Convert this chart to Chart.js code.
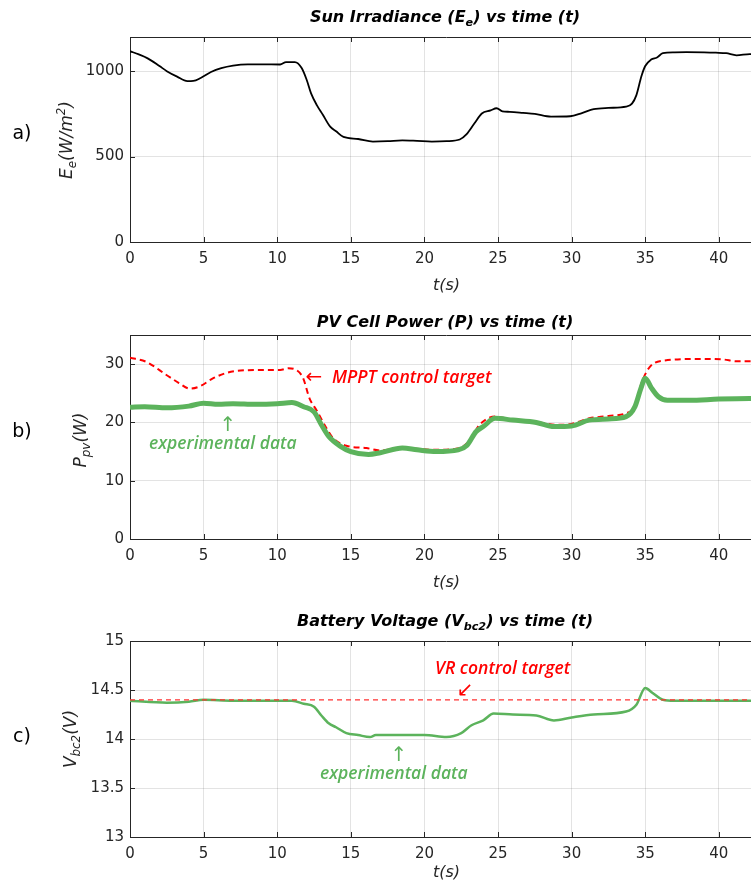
<!DOCTYPE html>
<html>
<head>
<meta charset="utf-8">
<script src="https://cdn.jsdelivr.net/npm/chart.js@4/dist/chart.umd.min.js"></script>
<style>
  html, body { margin:0; padding:0; background:#fff; width:751px; height:884px; overflow:hidden; }
  #wrap { position:relative; width:751px; height:884px; overflow:hidden; }
  canvas { position:absolute; left:0; }
  .t { position:absolute; white-space:nowrap; transform:translate(-50%,-50%); }
  .title { font:bold oblique 16px "DejaVu Sans", sans-serif; color:#000; }
  .ylab { font:oblique 17px "DejaVu Sans", sans-serif; color:#262626; transform:translate(-50%,-50%) rotate(-90deg); }
  .plab { font:19px "DejaVu Sans", sans-serif; color:#000; }
  .ann { position:absolute; white-space:nowrap; font:italic 600 17.5px "Open Sans", sans-serif; transform:translateY(-50%); }
  .arr { position:absolute; white-space:nowrap; font:20px "DejaVu Sans", sans-serif; transform:translate(-50%,-50%); }
  .red { color:#ff0000; }
  .grn { color:#5cb35c; }
  sub, sup { font-size:70%; line-height:0; }
</style>
</head>
<body>
<div id="wrap">
  <canvas id="ca" width="775" height="300" style="top:0px;width:775px;height:300px"></canvas>
  <canvas id="cb" width="775" height="295" style="top:300px;width:775px;height:295px"></canvas>
  <canvas id="cc" width="775" height="294" style="top:590px;width:775px;height:294px"></canvas>

  <div class="t title" style="left:445px;top:16px">Sun Irradiance (E<sub>e</sub>) vs time (t)</div>
  <div class="t title" style="left:445px;top:321px">PV Cell Power (P) vs time (t)</div>
  <div class="t title" style="left:445px;top:620px">Battery Voltage (V<sub>bc2</sub>) vs time (t)</div>

  <div class="t ylab" style="left:66px;top:140px">E<sub>e</sub>(W/m<sup>2</sup>)</div>
  <div class="t ylab" style="left:80px;top:440px">P<sub>pv</sub>(W)</div>
  <div class="t ylab" style="left:70px;top:739px">V<sub>bc2</sub>(V)</div>

  <div class="t plab" style="left:22px;top:132px">a)</div>
  <div class="t plab" style="left:22px;top:430px">b)</div>
  <div class="t plab" style="left:22px;top:735px">c)</div>

  <div class="arr red" style="left:314px;top:376px">←</div>
  <div class="ann red" style="left:332px;top:376px">MPPT control target</div>
  <div class="arr grn" style="left:228px;top:424px">↑</div>
  <div class="ann grn" style="left:149px;top:442px">experimental data</div>

  <div class="ann red" style="left:435px;top:667px">VR control target</div>
  <div class="arr red" style="left:465px;top:689px">↙</div>
  <div class="arr grn" style="left:399px;top:754px">↑</div>
  <div class="ann grn" style="left:320px;top:772px">experimental data</div>
</div>
<script>
// ---------- DATA ----------
const xTicks = [0, 5, 10, 15, 20, 25, 30, 35, 40];
const yTicksA = [0, 500, 1000];
const yTicksB = [0, 10, 20, 30];
const yTicksC = [13, 13.5, 14, 14.5, 15];

// a) Sun irradiance
const irrTime = [0,0.6,1.2,2,2.5,3.2,3.9,4.3,4.8,5.5,6.2,7,8,9,10.2,10.6,11.2,11.65,12,12.3,12.7,13.1,13.6,14,14.5,15.5,16.5,17.5,18.5,19.5,20.5,21.5,22.4,22.85,23.4,23.9,24.5,24.9,25.3,25.8,26.7,27.5,28.6,29.9,30.7,31.5,32.5,33.7,34.1,34.4,34.74,35.0,35.4,35.8,36.2,37,37.8,39,39.8,40.5,41.2,42.1,43];
const irrValue = [1117,1098,1075,1030,1000,968,942,943,960,995,1018,1033,1040,1040,1039,1053,1053,1020,950,870,800,745,675,648,615,603,588,590,595,592,588,590,600,630,695,752,770,783,765,762,756,750,734,736,755,778,785,792,810,860,970,1030,1068,1080,1105,1110,1111,1110,1108,1105,1093,1100,1100];

// b) PV power
const mpptTime = [0,1.1,2.5,3.3,4.07,4.75,5.6,6.56,7.5,9,10.2,10.75,11.3,11.76,12.2,12.67,13.35,13.8,14.7,16.06,17,18.5,20.8,22.4,23.1,23.75,24.8,26,27.6,29,29.9,31.2,32.5,33.7,34.3,34.74,35.3,36.2,38.9,40.3,41.2,43];
const mpptValue = [31.1,30.4,28.1,26.8,25.8,26.2,27.5,28.5,28.9,29.0,29.0,29.3,29.0,27.6,24.1,22.1,19.0,17.3,16.0,15.6,15.2,15.6,15.3,15.6,17.0,19.6,21.0,20.4,20.1,19.6,19.7,20.7,21.1,21.6,22.7,26.7,29.5,30.6,30.9,30.8,30.5,30.5];
const pExpTime = [0,1,2.5,4,5,6,7,8.5,10,11,11.8,12.5,13,13.5,14.3,15,16.2,17,18.5,19.5,20.8,22.3,22.9,23.5,24,24.8,26,27.6,28.8,30,31.2,32.5,33.7,34.3,34.7,35,35.4,35.9,36.5,38,40,42.1,43];
const pExpValue = [22.6,22.7,22.5,22.8,23.3,23.1,23.2,23.1,23.2,23.4,22.7,21.8,19.6,17.6,15.9,15.0,14.5,14.8,15.6,15.3,15.0,15.3,16.1,18.4,19.3,20.7,20.4,20.0,19.3,19.4,20.4,20.6,21.0,22.7,25.8,27.6,26.0,24.4,23.8,23.8,24.0,24.1,24.1];

// c) Battery voltage
const vrTime = [0, 43];
const vrValue = [14.4, 14.4];
const vExpTime = [0,2.5,4,5,7,10,11,11.8,12.5,13,13.5,14,14.7,15.5,16.3,16.7,18.5,20,21.5,22.5,23.2,24,24.7,26,27.6,28.8,30,31.5,33.7,34.4,35,35.5,36.2,37,40,43];
const vExpValue = [14.39,14.37,14.38,14.40,14.39,14.39,14.39,14.36,14.33,14.24,14.16,14.12,14.06,14.04,14.02,14.04,14.04,14.04,14.02,14.06,14.14,14.19,14.26,14.25,14.24,14.19,14.22,14.25,14.28,14.35,14.52,14.47,14.40,14.39,14.39,14.39];

// ---------- RENDER ----------
const pts = (xs, ys) => xs.map((x, i) => ({x: x, y: ys[i]}));
const AXIS = '#262626';
const GRID = 'rgba(0,0,0,0.11)';
const tickFont = {family: '"DejaVu Sans", sans-serif', size: 15};

function framePlugin(yTicks) {
  return {
    id: 'frame',
    afterDraw(chart) {
      const {ctx, chartArea: a, scales} = chart;
      ctx.save();
      ctx.strokeStyle = AXIS;
      ctx.lineWidth = 1;
      ctx.beginPath();
      ctx.moveTo(a.left, Math.round(a.top) + 0.5); ctx.lineTo(a.right, Math.round(a.top) + 0.5);
      xTicks.forEach(v => {
        const px = Math.round(scales.x.getPixelForValue(v)) + 0.5;
        ctx.moveTo(px, a.bottom); ctx.lineTo(px, a.bottom - 5);
        ctx.moveTo(px, a.top); ctx.lineTo(px, a.top + 5);
      });
      yTicks.forEach(v => {
        const py = Math.round(scales.y.getPixelForValue(v)) + 0.5;
        ctx.moveTo(a.left, py); ctx.lineTo(a.left + 5, py);
      });
      ctx.stroke();
      ctx.restore();
    }
  };
}

function panel(id, cfg) {
  const h = cfg.height;
  return new Chart(document.getElementById(id), {
    type: 'line',
    data: {datasets: cfg.datasets},
    options: {
      responsive: false,
      animation: false,
      events: [],
      layout: {padding: {top: cfg.top, right: 12, left: 0, bottom: 0}},
      plugins: {legend: {display: false}, tooltip: {enabled: false}},
      elements: {point: {radius: 0}},
      scales: {
        x: {
          type: 'linear', min: 0, max: 43,
          afterBuildTicks: s => { s.ticks = xTicks.map(v => ({value: v})); },
          afterFit: s => { s.height = h - cfg.bottom; },
          ticks: {font: tickFont, color: AXIS, padding: 8, maxRotation: 0, autoSkip: false,
                  callback: v => String(v)},
          grid: {color: GRID, drawTicks: false},
          border: {color: AXIS, width: 1},
          title: {display: true, text: 't(s)', color: AXIS,
                  font: {family: '"DejaVu Sans", sans-serif', size: 16, style: 'oblique'},
                  padding: {top: 0, bottom: cfg.titlePad}}
        },
        y: {
          type: 'linear', min: cfg.yMin, max: cfg.yMax,
          afterBuildTicks: s => { s.ticks = cfg.yTicks.map(v => ({value: v})); },
          afterFit: s => { s.width = 130; },
          ticks: {font: tickFont, color: AXIS, padding: 6, autoSkip: false,
                  callback: v => String(v)},
          grid: {color: GRID, drawTicks: false},
          border: {color: AXIS, width: 1}
        }
      }
    },
    plugins: [framePlugin(cfg.yTicks)]
  });
}

panel('ca', {
  height: 300, top: 37, bottom: 242, titlePad: 5,
  yMin: 0, yMax: 1200, yTicks: yTicksA,
  datasets: [{data: pts(irrTime, irrValue), borderColor: '#000', borderWidth: 1.8,
              cubicInterpolationMode: 'monotone'}]
});

panel('cb', {
  height: 295, top: 35, bottom: 239, titlePad: 3,
  yMin: 0, yMax: 35, yTicks: yTicksB,
  datasets: [
    {data: pts(pExpTime, pExpValue), borderColor: '#5cb35c', borderWidth: 5,
     cubicInterpolationMode: 'monotone'},
    {data: pts(mpptTime, mpptValue), borderColor: '#ff0000', borderWidth: 2,
     borderDash: [6, 4], cubicInterpolationMode: 'monotone'}
  ]
});

panel('cc', {
  height: 294, top: 51, bottom: 247, titlePad: 2,
  yMin: 13, yMax: 15, yTicks: yTicksC,
  datasets: [
    {data: pts(vrTime, vrValue), borderColor: '#ff3333', borderWidth: 1.2, borderDash: [5, 4]},
    {data: pts(vExpTime, vExpValue), borderColor: '#5cb35c', borderWidth: 2.5,
     cubicInterpolationMode: 'monotone'}
  ]
});
</script>
</body>
</html>
